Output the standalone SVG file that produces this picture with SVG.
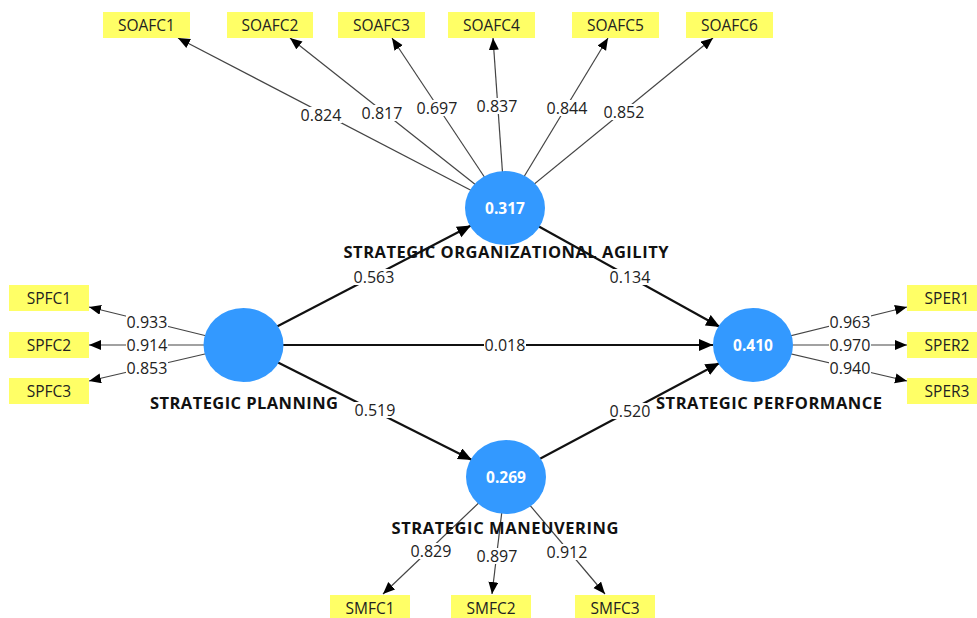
<svg xmlns="http://www.w3.org/2000/svg" width="977" height="618" viewBox="0 0 977 618">
<style>
.bg{fill:#ffffff}
.ind rect{fill:#ffff66}
.ind text{font-family:"Open Sans","Liberation Sans",sans-serif;font-size:15.5px;fill:#222;text-anchor:middle}
.lat ellipse{fill:#3399ff}
.lat .val{font-family:"Open Sans","Liberation Sans",sans-serif;font-size:15.5px;font-weight:bold;fill:#ffffff;text-anchor:middle}
.lat .name{font-family:"Open Sans","Liberation Sans",sans-serif;font-size:16.5px;font-weight:bold;fill:#111;text-anchor:middle}
.load{stroke:#444;stroke-width:1.2;fill:none;marker-end:url(#ah)}
.path{stroke:#111;stroke-width:2.2;fill:none;marker-end:url(#ah2)}
.lb rect{fill:#ffffff}
.lb text{font-family:"Open Sans","Liberation Sans",sans-serif;font-size:16px;fill:#222;text-anchor:middle}
</style>
<defs>
<marker id="ah" markerUnits="userSpaceOnUse" markerWidth="13" markerHeight="11" refX="12" refY="5" orient="auto">
<path d="M0,0 L12,5 L0,10 z" fill="#000"/>
</marker>
<marker id="ah2" markerUnits="userSpaceOnUse" markerWidth="15" markerHeight="13" refX="14" refY="6" orient="auto">
<path d="M0,0 L14,6 L0,12 z" fill="#000"/>
</marker>
</defs>
<rect class="bg" x="0" y="0" width="977" height="618"/>
<g id="connectors">
<line class="load" x1="505" y1="208" x2="178" y2="38"/>
<line class="load" x1="505" y1="208" x2="290" y2="38"/>
<line class="load" x1="505" y1="208" x2="392" y2="38"/>
<line class="load" x1="505" y1="208" x2="493" y2="38"/>
<line class="load" x1="505" y1="208" x2="608" y2="38"/>
<line class="load" x1="505" y1="208" x2="713" y2="38"/>
<line class="load" x1="243.5" y1="345" x2="89" y2="307"/>
<line class="load" x1="243.5" y1="345" x2="89" y2="345"/>
<line class="load" x1="243.5" y1="345" x2="89" y2="381"/>
<line class="load" x1="753" y1="345" x2="907" y2="307"/>
<line class="load" x1="753" y1="345" x2="907" y2="345"/>
<line class="load" x1="753" y1="345" x2="907" y2="381"/>
<line class="load" x1="506" y1="477" x2="383" y2="594"/>
<line class="load" x1="506" y1="477" x2="492" y2="594"/>
<line class="load" x1="506" y1="477" x2="605" y2="594"/>
<line class="path" x1="277" y1="326.5" x2="471" y2="225.5"/>
<line class="path" x1="538" y1="226" x2="720" y2="327"/>
<line class="path" x1="283" y1="345" x2="713" y2="345"/>
<line class="path" x1="277" y1="362" x2="472" y2="460"/>
<line class="path" x1="539.5" y1="459" x2="719.5" y2="363"/>
<g class="lb">
<rect x="300" y="107" width="42" height="16"/><text x="321" y="120.5">0.824</text>
<rect x="361" y="105" width="42" height="16"/><text x="382" y="118.5">0.817</text>
<rect x="416" y="100" width="42" height="16"/><text x="437" y="113.5">0.697</text>
<rect x="476" y="98" width="42" height="16"/><text x="497" y="111.5">0.837</text>
<rect x="546" y="100" width="42" height="16"/><text x="567" y="113.5">0.844</text>
<rect x="603" y="104" width="42" height="16"/><text x="624" y="117.5">0.852</text>
<rect x="126" y="314" width="42" height="16"/><text x="147" y="327.5">0.933</text>
<rect x="126" y="337" width="42" height="16"/><text x="147" y="350.5">0.914</text>
<rect x="126" y="360" width="42" height="16"/><text x="147" y="373.5">0.853</text>
<rect x="829" y="314" width="42" height="16"/><text x="850" y="327.5">0.963</text>
<rect x="829" y="337" width="42" height="16"/><text x="850" y="350.5">0.970</text>
<rect x="829" y="360" width="42" height="16"/><text x="850" y="373.5">0.940</text>
<rect x="410" y="543" width="42" height="16"/><text x="431" y="556.5">0.829</text>
<rect x="476" y="548" width="42" height="16"/><text x="497" y="561.5">0.897</text>
<rect x="546" y="544" width="42" height="16"/><text x="567" y="557.5">0.912</text>
<rect x="353" y="269" width="42" height="16"/><text x="374" y="282.5">0.563</text>
<rect x="609" y="269" width="42" height="16"/><text x="630" y="282.5">0.134</text>
<rect x="484" y="337" width="42" height="16"/><text x="505" y="350.5">0.018</text>
<rect x="354" y="402" width="42" height="16"/><text x="375" y="415.5">0.519</text>
<rect x="609" y="403" width="42" height="16"/><text x="630" y="416.5">0.520</text>
</g>
</g>
<g id="SOAFC1" class="ind"><rect x="103" y="12" width="87" height="26"/><text x="146.5" y="30.5">SOAFC1</text></g>
<g id="SOAFC2" class="ind"><rect x="227" y="12" width="86" height="26"/><text x="270" y="30.5">SOAFC2</text></g>
<g id="SOAFC3" class="ind"><rect x="338" y="12" width="87" height="26"/><text x="381.5" y="30.5">SOAFC3</text></g>
<g id="SOAFC4" class="ind"><rect x="448" y="12" width="87" height="26"/><text x="491.5" y="30.5">SOAFC4</text></g>
<g id="SOAFC5" class="ind"><rect x="572" y="12" width="87" height="26"/><text x="615.5" y="30.5">SOAFC5</text></g>
<g id="SOAFC6" class="ind"><rect x="686" y="12" width="87" height="26"/><text x="729.5" y="30.5">SOAFC6</text></g>
<g id="SPFC1" class="ind"><rect x="9" y="285" width="80" height="26"/><text x="49" y="303.5">SPFC1</text></g>
<g id="SPFC2" class="ind"><rect x="9" y="332" width="80" height="26"/><text x="49" y="350.5">SPFC2</text></g>
<g id="SPFC3" class="ind"><rect x="9" y="378" width="80" height="26"/><text x="49" y="396.5">SPFC3</text></g>
<g id="SPER1" class="ind"><rect x="907" y="285" width="80" height="26"/><text x="947" y="303.5">SPER1</text></g>
<g id="SPER2" class="ind"><rect x="907" y="332" width="80" height="26"/><text x="947" y="350.5">SPER2</text></g>
<g id="SPER3" class="ind"><rect x="907" y="378" width="80" height="26"/><text x="947" y="396.5">SPER3</text></g>
<g id="SMFC1" class="ind"><rect x="330" y="595" width="80" height="26"/><text x="370" y="614">SMFC1</text></g>
<g id="SMFC2" class="ind"><rect x="451" y="595" width="80" height="26"/><text x="491" y="614">SMFC2</text></g>
<g id="SMFC3" class="ind"><rect x="575" y="595" width="80" height="26"/><text x="615" y="614">SMFC3</text></g>
<g id="SOA" class="lat"><ellipse cx="505" cy="208" rx="40" ry="37"/><text class="val" x="505" y="214">0.317</text><text class="name" x="506" y="258" textLength="325" lengthAdjust="spacing">STRATEGIC ORGANIZATIONAL AGILITY</text></g>
<g id="SP" class="lat"><ellipse cx="243.5" cy="345" rx="40" ry="37"/><text class="name" x="244" y="409" textLength="188" lengthAdjust="spacing">STRATEGIC PLANNING</text></g>
<g id="SPERF" class="lat"><ellipse cx="753" cy="345" rx="40" ry="37"/><text class="val" x="753" y="351">0.410</text><text class="name" x="769" y="409" textLength="226" lengthAdjust="spacing">STRATEGIC PERFORMANCE</text></g>
<g id="SM" class="lat"><ellipse cx="506" cy="477" rx="40" ry="37"/><text class="val" x="506" y="483">0.269</text><text class="name" x="505" y="534" textLength="227" lengthAdjust="spacing">STRATEGIC MANEUVERING</text></g>
</svg>
